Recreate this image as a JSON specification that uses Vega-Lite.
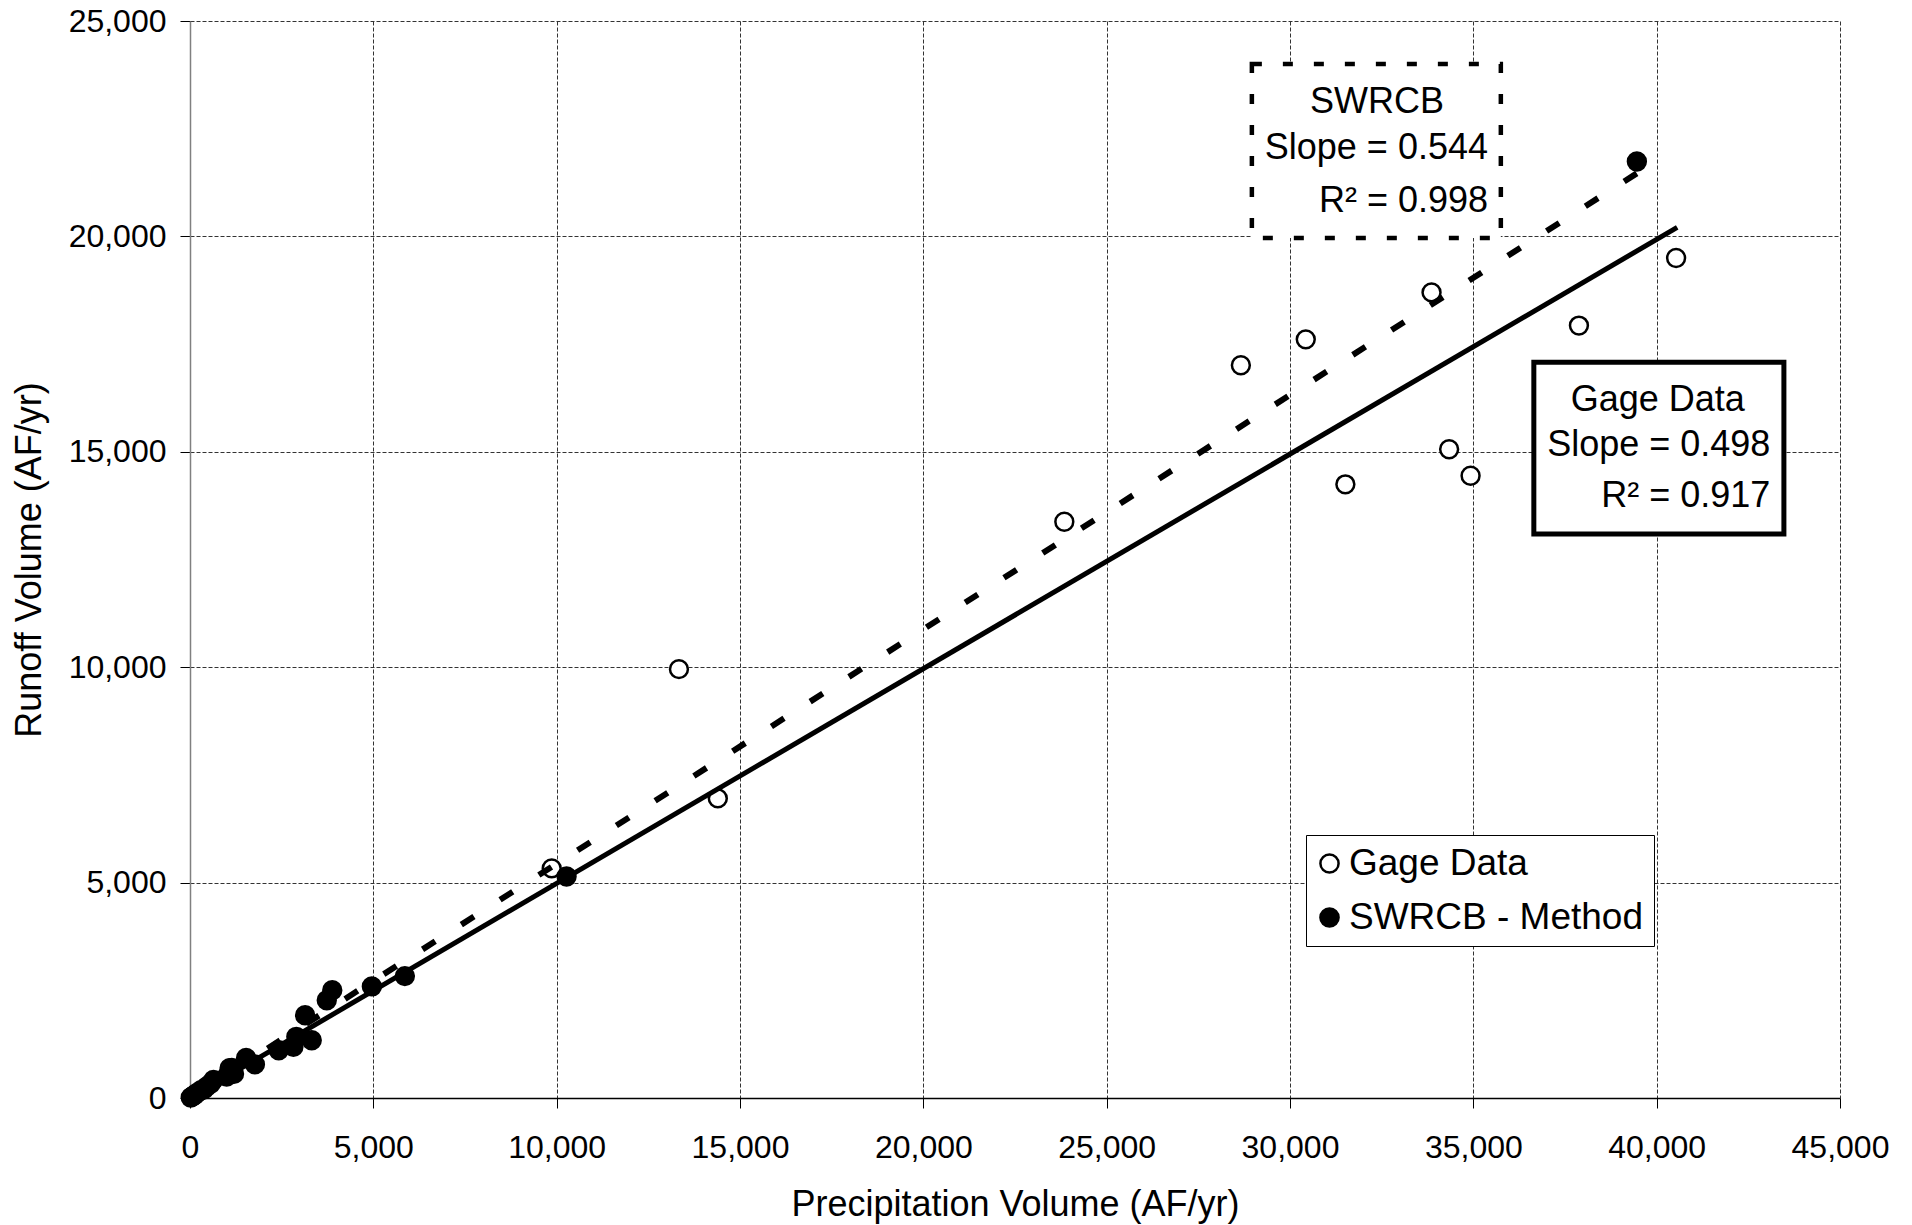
{
  "$schema": "https://vega.github.io/schema/vega-lite/v6.json",
  "width": 1650,
  "height": 1077,
  "autosize": {"type": "none"},
  "padding": {"left": 190, "top": 21, "right": 72, "bottom": 127},
  "background": "white",
  "config": {
    "view": {"stroke": null},
    "font": "Liberation Sans",
    "text": {"font": "Liberation Sans"}
  },
  "datasets": {
    "pts": [
      {"series": "Gage Data", "x": 40530, "y": 19500},
      {"series": "Gage Data", "x": 37880, "y": 17930},
      {"series": "Gage Data", "x": 33860, "y": 18700},
      {"series": "Gage Data", "x": 30430, "y": 17610},
      {"series": "Gage Data", "x": 28660, "y": 17010},
      {"series": "Gage Data", "x": 31510, "y": 14245},
      {"series": "Gage Data", "x": 34340, "y": 15060},
      {"series": "Gage Data", "x": 34925, "y": 14445},
      {"series": "Gage Data", "x": 23845, "y": 13376},
      {"series": "Gage Data", "x": 13335, "y": 9955},
      {"series": "Gage Data", "x": 14395, "y": 6955},
      {"series": "Gage Data", "x": 9865, "y": 5330},
      {"series": "Gage Data", "x": 1080, "y": 690},
      {"series": "Gage Data", "x": 380, "y": 200},
      {"series": "Gage Data", "x": 120, "y": 60},
      {"series": "SWRCB - Method", "x": 39460, "y": 21740},
      {"series": "SWRCB - Method", "x": 10270, "y": 5140},
      {"series": "SWRCB - Method", "x": 5860, "y": 2830},
      {"series": "SWRCB - Method", "x": 4960, "y": 2590},
      {"series": "SWRCB - Method", "x": 3880, "y": 2500},
      {"series": "SWRCB - Method", "x": 3730, "y": 2270},
      {"series": "SWRCB - Method", "x": 3140, "y": 1920},
      {"series": "SWRCB - Method", "x": 3320, "y": 1340},
      {"series": "SWRCB - Method", "x": 2900, "y": 1420},
      {"series": "SWRCB - Method", "x": 2820, "y": 1190},
      {"series": "SWRCB - Method", "x": 2420, "y": 1110},
      {"series": "SWRCB - Method", "x": 1770, "y": 780},
      {"series": "SWRCB - Method", "x": 1530, "y": 930},
      {"series": "SWRCB - Method", "x": 1140, "y": 700},
      {"series": "SWRCB - Method", "x": 1200, "y": 560},
      {"series": "SWRCB - Method", "x": 1000, "y": 500},
      {"series": "SWRCB - Method", "x": 640, "y": 420},
      {"series": "SWRCB - Method", "x": 560, "y": 330},
      {"series": "SWRCB - Method", "x": 450, "y": 260},
      {"series": "SWRCB - Method", "x": 300, "y": 180},
      {"series": "SWRCB - Method", "x": 180, "y": 110},
      {"series": "SWRCB - Method", "x": 100, "y": 60},
      {"series": "SWRCB - Method", "x": 50, "y": 30},
      {"series": "SWRCB - Method", "x": 20, "y": 10}
    ],
    "gageFit": [{"x": 0, "y": 0}, {"x": 40560, "y": 20210}],
    "swrcbFit": [{"x": 0, "y": 0}, {"x": 39470, "y": 21470}],
    "boxes": [
      {"box": "SWRCB", "x1": 28960, "x2": 35750, "y1": 19960, "y2": 24000},
      {"box": "Gage", "x1": 36650, "x2": 43470, "y1": 13090, "y2": 17080}
    ],
    "heads": [
      {"x": 32370, "y": 22860, "t": "SWRCB"},
      {"x": 40030, "y": 15945, "t": "Gage Data"}
    ],
    "lines": [
      {"x": 35400, "y": 21794, "t": "Slope = 0.544"},
      {"x": 35400, "y": 20564, "t": "R² = 0.998"},
      {"x": 43100, "y": 14901, "t": "Slope = 0.498"},
      {"x": 43100, "y": 13717, "t": "R² = 0.917"}
    ]
  },
  "layer": [
    {
      "data": {"name": "pts"},
      "mark": {"type": "point", "shape": "circle", "filled": true, "stroke": "black", "strokeWidth": 2.5, "size": 320, "opacity": 1},
      "encoding": {
        "x": {
          "field": "x", "type": "quantitative",
          "scale": {"domain": [0, 45000], "nice": false},
          "axis": {
            "title": "Precipitation Volume (AF/yr)",
            "values": [0, 5000, 10000, 15000, 20000, 25000, 30000, 35000, 40000, 45000],
            "format": ",.0f",
            "grid": true, "gridDash": [4, 2], "gridColor": "#333333", "gridWidth": 1,
            "domainColor": "black", "domainWidth": 1.5,
            "tickColor": "black", "tickSize": 10, "tickWidth": 1,
            "labelFontSize": 32, "labelColor": "black", "labelFont": "Liberation Sans",
            "labelFlush": false, "labelOverlap": false, "labelPadding": 24,
            "titleFontSize": 36, "titleFontWeight": "normal", "titleColor": "black", "titleFont": "Liberation Sans",
            "titlePadding": 24
          }
        },
        "y": {
          "field": "y", "type": "quantitative",
          "scale": {"domain": [0, 25000], "nice": false},
          "axis": {
            "title": "Runoff Volume (AF/yr)",
            "values": [0, 5000, 10000, 15000, 20000, 25000],
            "format": ",.0f",
            "grid": true, "gridDash": [4, 2], "gridColor": "#333333", "gridWidth": 1,
            "domainColor": "#808080", "domainWidth": 1.5,
            "tickColor": "black", "tickSize": 10, "tickWidth": 1,
            "labelFontSize": 32, "labelColor": "black", "labelFont": "Liberation Sans",
            "labelOverlap": false, "labelPadding": 14,
            "titleFontSize": 36, "titleFontWeight": "normal", "titleColor": "black", "titleFont": "Liberation Sans",
            "titlePadding": 20
          }
        },
        "fill": {
          "field": "series", "type": "nominal",
          "scale": {"domain": ["Gage Data", "SWRCB - Method"], "range": ["white", "black"]},
          "legend": {
            "title": null,
            "orient": "none", "legendX": 1116, "legendY": 814,
            "direction": "vertical",
            "strokeColor": "black", "fillColor": "white",
            "padding": 10,
            "symbolType": "circle", "symbolSize": 330, "symbolOffset": -5,
            "symbolStrokeColor": "black", "symbolStrokeWidth": 2.5,
            "labelFontSize": 37, "labelFont": "Liberation Sans", "labelColor": "black",
            "labelOffset": 1, "rowPadding": 16, "labelLimit": 400
          }
        }
      }
    },
    {
      "data": {"name": "gageFit"},
      "mark": {"type": "line", "color": "black", "strokeWidth": 5},
      "encoding": {
        "x": {"field": "x", "type": "quantitative"},
        "y": {"field": "y", "type": "quantitative"}
      }
    },
    {
      "data": {"name": "swrcbFit"},
      "mark": {"type": "line", "color": "black", "strokeWidth": 6, "strokeDash": [15, 31], "strokeCap": "butt"},
      "encoding": {
        "x": {"field": "x", "type": "quantitative"},
        "y": {"field": "y", "type": "quantitative"}
      }
    },
    {
      "data": {"name": "boxes"},
      "transform": [{"filter": "datum.box == 'SWRCB'"}],
      "mark": {"type": "rect", "fill": "white", "stroke": "black", "strokeWidth": 4.5, "strokeDash": [10, 21]},
      "encoding": {
        "x": {"field": "x1", "type": "quantitative"},
        "x2": {"field": "x2"},
        "y": {"field": "y1", "type": "quantitative"},
        "y2": {"field": "y2"}
      }
    },
    {
      "data": {"name": "boxes"},
      "transform": [{"filter": "datum.box == 'Gage'"}],
      "mark": {"type": "rect", "fill": "white", "stroke": "black", "strokeWidth": 5},
      "encoding": {
        "x": {"field": "x1", "type": "quantitative"},
        "x2": {"field": "x2"},
        "y": {"field": "y1", "type": "quantitative"},
        "y2": {"field": "y2"}
      }
    },
    {
      "data": {"name": "heads"},
      "mark": {"type": "text", "align": "center", "baseline": "alphabetic", "fontSize": 36, "color": "black", "font": "Liberation Sans"},
      "encoding": {
        "x": {"field": "x", "type": "quantitative"},
        "y": {"field": "y", "type": "quantitative"},
        "text": {"field": "t"}
      }
    },
    {
      "data": {"name": "lines"},
      "mark": {"type": "text", "align": "right", "baseline": "alphabetic", "fontSize": 36, "color": "black", "font": "Liberation Sans"},
      "encoding": {
        "x": {"field": "x", "type": "quantitative"},
        "y": {"field": "y", "type": "quantitative"},
        "text": {"field": "t"}
      }
    }
  ]
}
